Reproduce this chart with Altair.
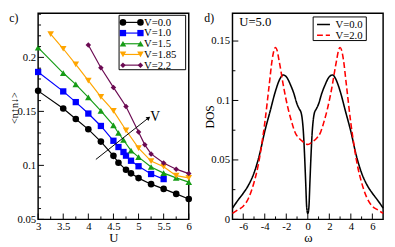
import altair as alt
import pandas as pd

FONT = "Liberation Serif, Times New Roman, serif"

# ---------------- panel c) : double occupancy vs U ----------------
series_labels = ["V=0.0", "V=1.0", "V=1.5", "V=1.85", "V=2.2"]
series_colors = ["#000000", "#0000ff", "#169c16", "#ffa500", "#6b0a52"]
series_shapes = ["circle", "square", "triangle-up", "triangle-down", "diamond"]
series_sizes = [46, 42, 46, 46, 32]

U_v00 = [3.0, 3.5, 3.75, 4.0, 4.25, 4.5, 4.6, 4.75, 4.85, 5.0, 5.25, 5.5, 5.75, 6.0]
D_v00 = [0.169, 0.1526, 0.143, 0.1334, 0.122, 0.1088, 0.1025, 0.0959, 0.0926, 0.0882, 0.0826, 0.0782, 0.0736, 0.0688]
U_v10 = [3.0, 3.5, 3.75, 4.0, 4.25, 4.5, 4.6, 4.7, 4.75, 4.85, 5.0, 5.25, 5.5]
D_v10 = [0.1865, 0.1685, 0.1586, 0.148, 0.1365, 0.1228, 0.117, 0.1124, 0.109, 0.1043, 0.0992, 0.092, 0.0873]
U_v15 = [3.0, 3.5, 3.75, 4.0, 4.25, 4.5, 4.6, 4.7, 4.85, 5.0, 5.25, 5.5, 5.75, 6.0]
D_v15 = [0.209, 0.1855, 0.175, 0.163, 0.1505, 0.137, 0.130, 0.1235, 0.1136, 0.1076, 0.0985, 0.0928, 0.0884, 0.0845]
U_v185 = [3.25, 3.5, 3.75, 4.0, 4.25, 4.5, 4.75, 5.0, 5.25, 5.5, 5.75, 6.0]
D_v185 = [0.2216, 0.208, 0.1935, 0.1785, 0.1635, 0.1505, 0.1325, 0.116, 0.104, 0.0988, 0.0905, 0.0884]
U_v22 = [4.0, 4.25, 4.5, 4.75, 5.0, 5.125, 5.25, 5.5, 5.75, 6.0]
D_v22 = [0.2114, 0.1904, 0.1722, 0.1545, 0.131, 0.119, 0.1106, 0.1022, 0.0965, 0.0924]

U_series = [U_v00, U_v10, U_v15, U_v185, U_v22]
D_series = [D_v00, D_v10, D_v15, D_v185, D_v22]

left_x_major = [3, 3.5, 4, 4.5, 5, 5.5, 6]
left_x_minor = [3.25, 3.75, 4.25, 4.75, 5.25, 5.75]
left_y_major = [0.05, 0.1, 0.15, 0.2]
left_y_minor = [0.06, 0.07, 0.08, 0.09, 0.11, 0.12, 0.13, 0.14, 0.16, 0.17,
                0.18, 0.19, 0.21, 0.22, 0.23, 0.24]

arrow_U = [4.15, 5.2]
arrow_D = [0.1055, 0.144]
arrow_label = "V"
arrow_label_U = 5.33
arrow_label_D = 0.1445

# ---------------- panel d) : DOS ----------------
omega_v0 = [-7, -6.5, -6, -5.5, -5, -4.5, -4, -3.5, -3, -2.6, -2.3, -2, -1.6, -1.3, -1, -0.8,
            -0.6, -0.5, -0.4, -0.3, -0.2, -0.1, 0,
            0.1, 0.2, 0.3, 0.4, 0.5, 0.6, 0.8, 1, 1.3, 1.6, 2, 2.3, 2.6, 3, 3.5, 4, 4.5,
            5, 5.5, 6, 6.5, 7]
dos_v0 = [0.0095, 0.016, 0.022, 0.029, 0.039, 0.054, 0.074, 0.091, 0.108, 0.118, 0.1215, 0.120,
          0.113, 0.106, 0.097, 0.093, 0.089, 0.083, 0.072, 0.054, 0.032, 0.010, 0.005,
          0.010, 0.032, 0.054, 0.072, 0.083, 0.089, 0.093, 0.097, 0.106, 0.113, 0.120,
          0.1215, 0.118, 0.108, 0.091, 0.074, 0.054, 0.039, 0.029, 0.022, 0.016, 0.0095]
omega_v2 = [-7, -6.5, -6, -5.5, -5, -4.6, -4.3, -4, -3.6, -3.3, -3.15, -3, -2.85, -2.7, -2.5,
            -2.3, -2, -1.8, -1.5, -1.2, -0.8, -0.4, 0,
            0.4, 0.8, 1.2, 1.5, 1.8, 2, 2.3, 2.5, 2.7, 2.85, 3, 3.15, 3.3, 3.6, 4, 4.3,
            4.6, 5, 5.5, 6, 6.5, 7]
dos_v2 = [0.005, 0.008, 0.011, 0.018, 0.031, 0.046, 0.062, 0.081, 0.112, 0.135, 0.142, 0.1445,
          0.142, 0.135, 0.125, 0.114, 0.100, 0.092, 0.082, 0.0735, 0.068, 0.065, 0.063,
          0.065, 0.068, 0.0735, 0.082, 0.092, 0.100, 0.114, 0.125, 0.135, 0.142, 0.1445,
          0.142, 0.135, 0.112, 0.081, 0.062, 0.046, 0.031, 0.018, 0.011, 0.008, 0.005]
dos_labels = ["V=0.0", "V=2.0"]
dos_colors = ["#000000", "#ff0000"]
dos_dashes = [[1, 0], [6, 3]]

right_x_major = [-6, -4, -2, 0, 2, 4, 6]
right_x_minor = [-5, -3, -1, 1, 3, 5]
right_y_major = [0, 0.05, 0.1, 0.15]
right_y_minor = [0.025, 0.075, 0.125]

W, H = 155, 212
one = pd.DataFrame({"a": [0]})


def text_at(txt, x, y, size=12, align="left", baseline="middle"):
    return alt.Chart(one).mark_text(text=txt, font=FONT, fontSize=size, align=align,
                                    baseline=baseline, color="black").encode(
        x=alt.value(x), y=alt.value(y))


def tick_layers(xmaj, xmin, ymaj, ymin, xf, yf, xs, ys, ax, ay):
    out = []
    for vals, ln in ((xmaj, 6), (xmin, 3)):
        out.append(alt.Chart(pd.DataFrame({xf: vals})).mark_rule(color="black", strokeWidth=1).encode(
            x=alt.X(f"{xf}:Q", scale=xs, axis=ax), y=alt.value(H), y2=alt.value(H - ln)))
    for vals, ln in ((ymaj, 6), (ymin, 3)):
        out.append(alt.Chart(pd.DataFrame({yf: vals})).mark_rule(color="black", strokeWidth=1).encode(
            y=alt.Y(f"{yf}:Q", scale=ys, axis=ay), x=alt.value(0), x2=alt.value(ln)))
    return out


# ---- left panel ----
xsL = alt.Scale(domain=[3, 6], nice=False, zero=False)
ysL = alt.Scale(domain=[0.05, 0.2408], nice=False, zero=False)
axLx = alt.Axis(values=left_x_major, format="~g", ticks=False, tickSize=0, domain=False, grid=False,
                labelFont=FONT, labelFontSize=11, labelColor="black", labelPadding=1,
                labelFlush=False, labelOverlap=False, title="U", titleFont=FONT, titleFontSize=13,
                titleFontWeight="normal", titleColor="black", titleY=13)
axLy = alt.Axis(values=left_y_major, format="~g", ticks=False, tickSize=0, domain=False, grid=False,
                labelFont=FONT, labelFontSize=11, labelColor="black", labelPadding=2.5,
                labelFlush=False, labelOverlap=False, title="<n↑n↓>", titleFont=FONT,
                titleFontSize=10.5, titleFontWeight="normal", titleColor="black", titleX=-19.2,
                titleY=97)


def XL(f="U"):
    return alt.X(f"{f}:Q", scale=xsL, axis=axLx)


def YL(f="D"):
    return alt.Y(f"{f}:Q", scale=ysL, axis=axLy)


left_layers = []
for i, lab in enumerate(series_labels):
    df = pd.DataFrame({"U": U_series[i], "D": D_series[i]})
    left_layers.append(alt.Chart(df).mark_line(color=series_colors[i], strokeWidth=1.2).encode(
        x=XL(), y=YL()))
    left_layers.append(alt.Chart(df).mark_point(shape=series_shapes[i], filled=True, opacity=1,
                                                color=series_colors[i], size=series_sizes[i]).encode(
        x=XL(), y=YL()))

arrow_df = pd.DataFrame({"U": [arrow_U[0]], "D": [arrow_D[0]], "U2": [arrow_U[1]], "D2": [arrow_D[1]]})
left_layers.append(alt.Chart(arrow_df).mark_rule(color="black", strokeWidth=1).encode(
    x=XL(), y=YL(), x2="U2:Q", y2="D2:Q"))
left_layers.append(alt.Chart(pd.DataFrame({"U": [arrow_U[1]], "D": [arrow_D[1]]})).mark_point(
    shape="triangle-up", angle=52, filled=True, opacity=1, color="black", size=22).encode(
    x=XL(), y=YL()))
left_layers.append(alt.Chart(pd.DataFrame({"U": [arrow_label_U], "D": [arrow_label_D]})).mark_text(
    text=arrow_label, font=FONT, fontSize=14, color="black").encode(x=XL(), y=YL()))

left_layers += tick_layers(left_x_major, left_x_minor, left_y_major, left_y_minor, "U", "D",
                           xsL, ysL, axLx, axLy)

# legend (panel c)
left_layers.append(alt.Chart(one).mark_rect(fill="white", stroke="black", strokeWidth=1).encode(
    x=alt.value(83.3), x2=alt.value(151.8), y=alt.value(2), y2=alt.value(58)))
for i, lab in enumerate(series_labels):
    yy = 9.3 + 11 * i
    left_layers.append(alt.Chart(one).mark_rule(color=series_colors[i], strokeWidth=1.2).encode(
        x=alt.value(87.3), x2=alt.value(105.3), y=alt.value(yy)))
    for xx in (87.3, 105.3):
        left_layers.append(alt.Chart(one).mark_point(shape=series_shapes[i], filled=True, opacity=1,
                                                     color=series_colors[i], size=series_sizes[i]).encode(
            x=alt.value(xx), y=alt.value(yy)))
    left_layers.append(text_at(lab, 109, yy + 0.5, 11))

left_layers.append(text_at("c)", -29.7, 0, 12, baseline="top"))

left = alt.layer(*left_layers).properties(width=W, height=H)

# ---- right panel ----
xsR = alt.Scale(domain=[-7, 7], nice=False, zero=False)
ysR = alt.Scale(domain=[0, 0.1733], nice=False, zero=False)
axRx = alt.Axis(values=right_x_major, labelExpr="'' + datum.value", ticks=False, tickSize=0,
                domain=False, grid=False, labelFont=FONT, labelFontSize=11, labelColor="black",
                labelPadding=1.5, labelFlush=False, labelOverlap=False, title="ω", titleFont=FONT,
                titleFontSize=13, titleFontWeight="normal", titleColor="black", titleY=13)
axRy = alt.Axis(values=right_y_major, format="~g", ticks=False, tickSize=0, domain=False, grid=False,
                labelFont=FONT, labelFontSize=11, labelColor="black", labelPadding=3,
                labelFlush=False, labelOverlap=False, title="DOS", titleFont=FONT, titleFontSize=12,
                titleFontWeight="normal", titleColor="black", titleX=-16.5)

right_layers = []
dos_sets = [(omega_v0, dos_v0), (omega_v2, dos_v2)]
for i, (om, dv) in enumerate(dos_sets):
    df = pd.DataFrame({"w": om, "dos": dv})
    right_layers.append(alt.Chart(df).mark_line(color=dos_colors[i], strokeWidth=1.6,
                                                strokeDash=dos_dashes[i], interpolate="monotone").encode(
        x=alt.X("w:Q", scale=xsR, axis=axRx), y=alt.Y("dos:Q", scale=ysR, axis=axRy)))

right_layers += tick_layers(right_x_major, right_x_minor, right_y_major, right_y_minor, "w", "dos",
                            xsR, ysR, axRx, axRy)

right_layers.append(alt.Chart(one).mark_rect(fill="white", stroke="black", strokeWidth=1).encode(
    x=alt.value(83), x2=alt.value(137.7), y=alt.value(3.7), y2=alt.value(28)))
for i, lab in enumerate(dos_labels):
    yy = 11.5 + 11 * i
    right_layers.append(alt.Chart(one).mark_rule(color=dos_colors[i], strokeWidth=1.6,
                                                 strokeDash=dos_dashes[i]).encode(
        x=alt.value(87), x2=alt.value(100.3), y=alt.value(yy)))
    right_layers.append(text_at(lab, 106, yy + 0.5, 11))

right_layers.append(text_at("U=5.0", 7, 8.7, 13))
right_layers.append(text_at("d)", -29, 0, 12, baseline="top"))

right = alt.layer(*right_layers).properties(width=W, height=H)

chart = alt.hconcat(left, right, spacing=45, bounds="flush", padding=0).configure_view(
    stroke="black", strokeWidth=1.5)

chart.save("out.html", embed_options={"renderer": "svg", "actions": False})
